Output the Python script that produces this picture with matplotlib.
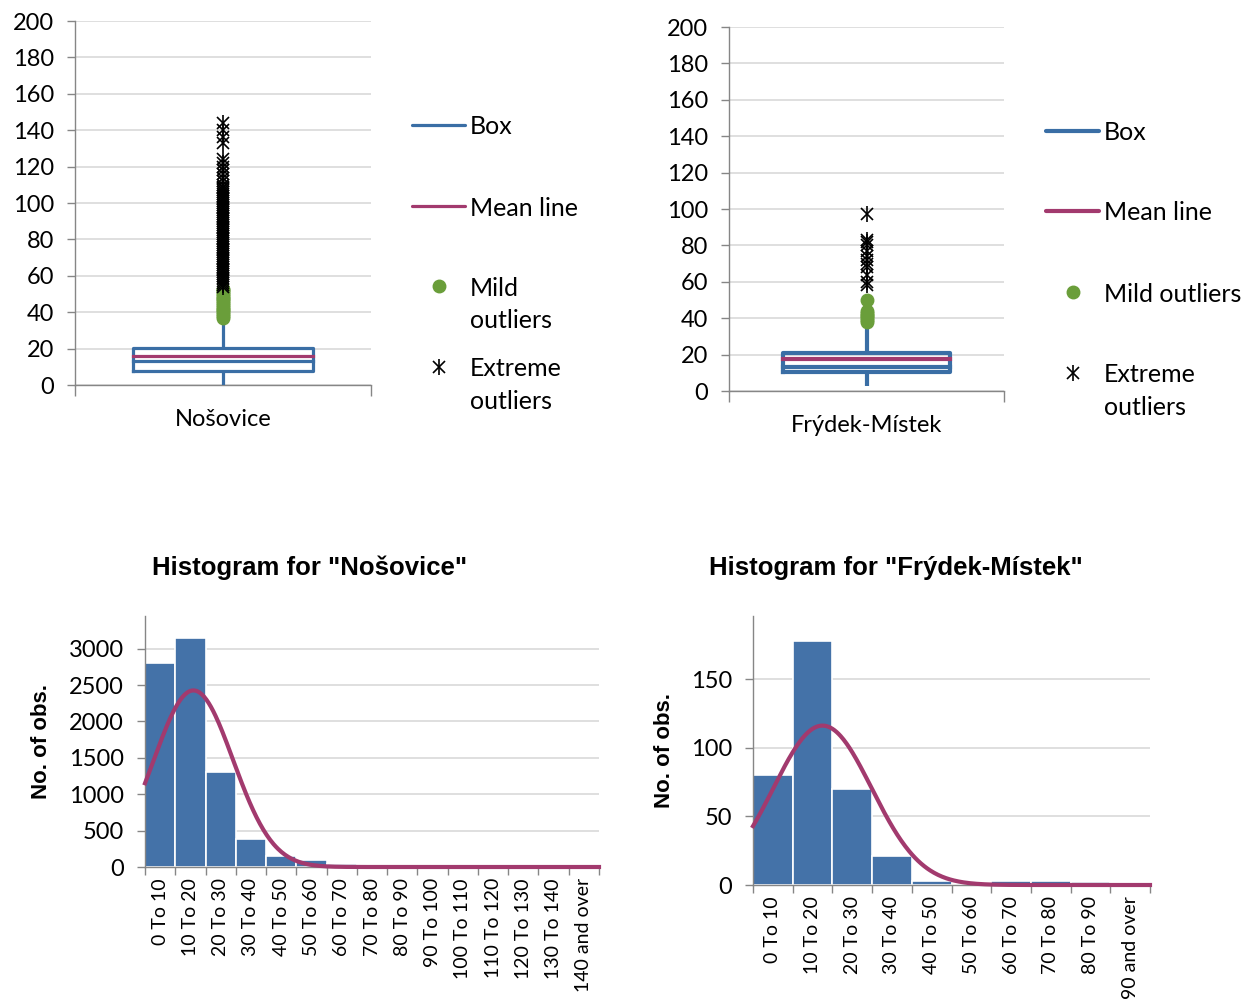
import numpy as np
import matplotlib
matplotlib.use("Agg")
import matplotlib.pyplot as plt
from matplotlib.lines import Line2D

# ---- data ----
# box plots: (min whisker, Q1, median, Q3, max whisker, mean)
nos_box = [0, 7.5, 13.2, 20.2, 37, 16.1]
fm_box = [2.5, 10.2, 13.4, 21.0, 36, 17.6]

nos_mild = [37, 38, 39, 40, 41, 42, 43, 44, 45, 46, 47, 48, 49, 50, 51, 52, 53]
nos_extreme = [54, 55, 56, 57, 58, 59, 60, 61, 62, 63, 64, 65, 66, 67, 68, 69, 70,
               71, 72, 73, 74, 75, 76, 77, 78, 79, 80, 81, 82, 83, 84, 85, 86, 87,
               88, 89, 90, 91, 92, 93, 94, 95, 96, 97, 98, 99, 100, 101, 102, 103,
               104, 105, 106, 107, 108, 109, 110, 112, 114, 116, 118, 120, 122,
               124, 133, 136, 140, 144]
fm_mild = [38, 39, 40, 41, 42, 43, 44, 50]
fm_extreme = [58, 60, 64, 68, 70, 72, 74, 77, 80, 82, 83, 97]

nos_bins = ["0 To 10", "10 To 20", "20 To 30", "30 To 40", "40 To 50", "50 To 60",
            "60 To 70", "70 To 80", "80 To 90", "90 To 100", "100 To 110",
            "110 To 120", "120 To 130", "130 To 140", "140 and over"]
nos_counts = [2810, 3150, 1300, 390, 150, 90, 40, 12, 8, 6, 5, 3, 2, 1, 2]
nos_fit = (16.0, 13.1)   # mean, sd of the fitted normal

fm_bins = ["0 To 10", "10 To 20", "20 To 30", "30 To 40", "40 To 50", "50 To 60",
           "60 To 70", "70 To 80", "80 To 90", "90 and over"]
fm_counts = [80, 178, 70, 21, 3, 1, 3, 3, 2, 0]
fm_fit = (17.5, 12.4)

legend_labels = ["Box", "Mean line", "Mild\noutliers", "Extreme\noutliers"]
legend_labels_fm = ["Box", "Mean line", "Mild outliers", "Extreme\noutliers"]

# ---- style ----
BLUE = "#3a6ea5"
BAR = "#4472a8"
MAG = "#a23a6e"
GREEN = "#6a9e3a"
GRID = "#d9d9d9"
SPINE = "#868686"
ARIAL = ["Liberation Sans", "DejaVu Sans"]
plt.rcParams["font.family"] = ["Lato", "DejaVu Sans"]

W, H = 1242, 1000
fig = plt.figure(figsize=(W / 100, H / 100), dpi=100)


def px(x0, y0, x1, y1):
    return [x0 / W, 1 - y1 / H, (x1 - x0) / W, (y1 - y0) / H]


def style_axes(ax):
    for s in ["top", "right"]:
        ax.spines[s].set_visible(False)
    for s in ["left", "bottom"]:
        ax.spines[s].set_color(SPINE)
        ax.spines[s].set_linewidth(1)
    ax.set_axisbelow(True)
    ax.yaxis.grid(True, color=GRID, lw=1.2)
    ax.tick_params(axis="both", colors=SPINE, labelcolor="black", length=6, width=1)
    ax.tick_params(axis="y", pad=9)


def boxplot(ax, box, mild, extreme, name, lw, lpad):
    lo, q1, med, q3, hi, mean = box
    style_axes(ax)
    ax.set_xlim(0, 1)
    ax.set_ylim(0, 200)
    ax.set_yticks(np.arange(0, 201, 20))
    ax.tick_params(axis="y", labelsize=17)
    ax.set_xticks([0, 1])
    ax.set_xticklabels(["", ""])
    ax.set_xticks([0.5], minor=True)
    ax.set_xticklabels([name], minor=True, fontsize=17)
    ax.tick_params(axis="x", which="minor", length=0, pad=lpad)
    ax.tick_params(axis="x", which="major", length=8)
    l, r = 0.196, 0.804
    ax.plot([0.5, 0.5], [lo, q1], color=BLUE, lw=lw, solid_capstyle="butt", zorder=3)
    ax.plot([0.5, 0.5], [q3, hi], color=BLUE, lw=lw, solid_capstyle="butt", zorder=3)
    ax.plot([l, r, r, l, l], [q1, q1, q3, q3, q1], color=BLUE, lw=lw,
            solid_joinstyle="round", zorder=3)
    ax.plot([l, r], [med, med], color=BLUE, lw=lw, zorder=3)
    ax.plot([l, r], [mean, mean], color=MAG, lw=lw, zorder=4)
    ax.plot([0.5] * len(mild), mild, "o", color=GREEN, ms=9, zorder=5, clip_on=False)
    ax.plot([0.5] * len(extreme), extreme, "x", color="black", ms=9, mew=1.2,
            zorder=5, clip_on=False)
    ax.plot([0.5] * len(extreme), extreme, "|", color="black", ms=11, mew=1.2,
            zorder=5, clip_on=False)


def legend(xl0, xl1, xt, ys, labels, lw):
    f = fig.transFigure
    fig.add_artist(Line2D([xl0 / W, xl1 / W], [1 - ys[0] / H] * 2, color=BLUE, lw=lw,
                          transform=f, solid_capstyle="round"))
    fig.add_artist(Line2D([xl0 / W, xl1 / W], [1 - ys[1] / H] * 2, color=MAG, lw=lw,
                          transform=f, solid_capstyle="round"))
    xm = (xl0 + xl1) / 2 / W
    fig.add_artist(Line2D([xm], [1 - ys[2] / H], marker="o", color=GREEN, ms=9,
                          transform=f))
    fig.add_artist(Line2D([xm], [1 - ys[3] / H], marker="x", color="black", ms=9,
                          mew=1.2, transform=f))
    fig.add_artist(Line2D([xm], [1 - ys[3] / H], marker="|", color="black", ms=11,
                          mew=1.2, transform=f))
    for i, lab in enumerate(labels):
        for j, part in enumerate(lab.split("\n")):
            fig.text(xt / W, 1 - (ys[i] + 32.5 * j) / H, part, fontsize=18,
                     va="center_baseline", ha="left")


def histogram(ax, bins, counts, fit, ymax, yticks):
    style_axes(ax)
    edges = np.arange(len(bins)) * 10
    ax.bar(edges, counts, width=10, align="edge", color=BAR, edgecolor="white",
           lw=1.2, zorder=2)
    xs = np.linspace(0, len(bins) * 10, 400)
    mu, sd = fit
    n = sum(counts)
    ys = n * 10 / (sd * np.sqrt(2 * np.pi)) * np.exp(-(xs - mu) ** 2 / (2 * sd ** 2))
    ax.plot(xs, ys, color=MAG, lw=3, zorder=3, clip_on=False)
    ax.set_xlim(0, len(bins) * 10)
    ax.set_ylim(0, ymax)
    ax.set_yticks(yticks)
    ax.tick_params(axis="y", labelsize=17)
    ax.set_xticks(np.arange(0, len(bins) * 10 + 1, 10))
    ax.set_xticklabels([""] * (len(bins) + 1))
    ax.set_xticks(edges + 5, minor=True)
    ax.set_xticklabels(bins, minor=True, rotation=90, fontsize=14, va="top")
    ax.tick_params(axis="x", which="minor", length=0, pad=8)
    ax.tick_params(axis="x", which="major", length=6)


ax1 = fig.add_axes(px(75, 21, 371, 385))
boxplot(ax1, nos_box, nos_mild, nos_extreme, "Nošovice", 2.3, 17)
legend(412, 465, 470, [125, 206, 286, 367], legend_labels, 2.3)

ax2 = fig.add_axes(px(729, 27, 1004, 391))
boxplot(ax2, fm_box, fm_mild, fm_extreme, "Frýdek-Místek", 3.0, 17)
legend(1046, 1099, 1104, [131, 211, 292, 373], legend_labels_fm, 3.0)

ax3 = fig.add_axes(px(145, 616, 599, 867))
histogram(ax3, nos_bins, nos_counts, nos_fit, 3450, np.arange(0, 3001, 500))
ax3.set_ylabel("No. of obs.", fontsize=16, fontweight="bold", family=ARIAL)
ax3.yaxis.set_label_coords(-0.205, 0.5)
fig.text(310 / W, 1 - 568 / H, 'Histogram for "Nošovice"', fontsize=18.5,
         fontweight="bold", family=ARIAL, ha="center", va="center")

ax4 = fig.add_axes(px(753, 616, 1150, 885))
histogram(ax4, fm_bins, fm_counts, fm_fit, 196, [0, 50, 100, 150])
ax4.set_ylabel("No. of obs.", fontsize=16, fontweight="bold", family=ARIAL)
ax4.yaxis.set_label_coords(-0.196, 0.5)
fig.text(896 / W, 1 - 568 / H, 'Histogram for "Frýdek-Místek"', fontsize=18.5,
         fontweight="bold", family=ARIAL, ha="center", va="center")

fig.savefig("out.png", dpi=100)
